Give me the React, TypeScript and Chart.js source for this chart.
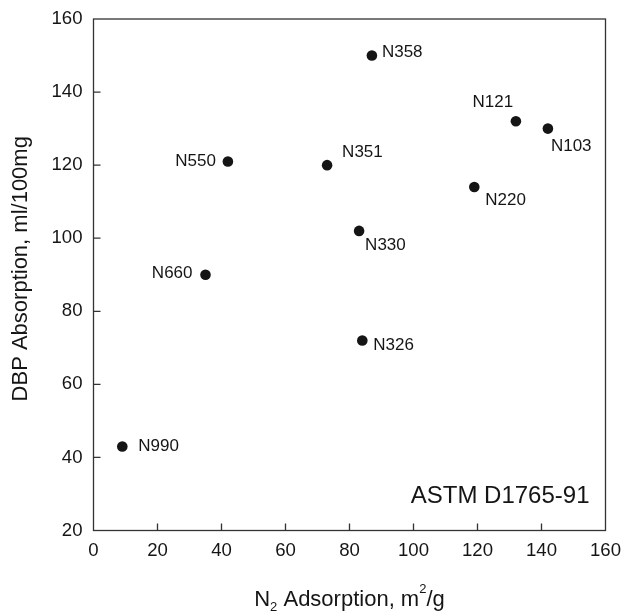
import React, { useEffect, useRef } from "react";
import { Chart, registerables } from "chart.js";

Chart.register(...registerables);

// ---- data ----
const grades = ["N990", "N660", "N550", "N358", "N121", "N103", "N351", "N220", "N330", "N326"];
const n2Adsorption = [9, 35, 42, 87, 132, 142, 73, 119, 83, 84];
const dbpAbsorption = [43, 90, 121, 150, 132, 130, 120, 114, 102, 72];

// label placement (style only): offset from the point and text alignment
const labelOffsets: [number, number][] = [
  [16, 0], [-13, -1], [-12, 0], [10, -3], [-23, -19],
  [3, 18], [15, -13], [11, 13], [6, 14], [11, 5],
];
const labelAligns: CanvasTextAlign[] = [
  "left", "right", "right", "left", "center",
  "left", "left", "left", "left", "left",
];

const xRange = [0, 160];
const yRange = [20, 160];
const tickStep = 20;
const yTitle = "DBP Absorption, ml/100mg";
const xTitleParts = [
  { text: "N", kind: "normal" },
  { text: "2", kind: "sub" },
  { text: " Adsorption, m", kind: "normal" },
  { text: "2", kind: "sup" },
  { text: "/g", kind: "normal" },
];
const noteText = "ASTM D1765-91";

const FONT = "'Liberation Sans', Arial, Helvetica, sans-serif";
const INK = "#151515";

const overlayPlugin = {
  id: "overlay",
  afterDatasetsDraw(chart: any) {
    const ctx: CanvasRenderingContext2D = chart.ctx;
    const { left, top, right, bottom } = chart.chartArea;
    const xs = chart.scales.x;
    const ys = chart.scales.y;
    ctx.save();

    // frame
    ctx.strokeStyle = "#333";
    ctx.lineWidth = 1.3;
    ctx.strokeRect(left, top, right - left, bottom - top);

    // inward tick marks
    ctx.beginPath();
    xs.ticks.forEach((t: any) => {
      const px = xs.getPixelForValue(t.value);
      if (px > left + 1 && px < right - 1) {
        ctx.moveTo(px, bottom);
        ctx.lineTo(px, bottom - 7);
      }
    });
    ys.ticks.forEach((t: any) => {
      const py = ys.getPixelForValue(t.value);
      if (py > top + 1 && py < bottom - 1) {
        ctx.moveTo(left, py);
        ctx.lineTo(left + 7, py);
      }
    });
    ctx.stroke();

    // point labels
    const meta = chart.getDatasetMeta(0);
    ctx.fillStyle = INK;
    ctx.font = `17px ${FONT}`;
    ctx.textBaseline = "middle";
    meta.data.forEach((el: any, i: number) => {
      const [dx, dy] = labelOffsets[i];
      ctx.textAlign = labelAligns[i];
      ctx.fillText(grades[i], el.x + dx, el.y + dy);
    });

    // note
    ctx.font = `24px ${FONT}`;
    ctx.textAlign = "right";
    ctx.textBaseline = "alphabetic";
    ctx.fillText(noteText, right - 16, bottom - 27.5);

    // y title
    ctx.save();
    ctx.translate(21, (top + bottom) / 2 - 6);
    ctx.rotate(-Math.PI / 2);
    ctx.font = `22px ${FONT}`;
    ctx.textAlign = "center";
    ctx.textBaseline = "middle";
    ctx.fillText(yTitle, 0, 0);
    ctx.restore();

    // x title with sub/superscript
    const fontFor = (kind: string) => (kind === "normal" ? `22px ${FONT}` : `13px ${FONT}`);
    let total = 0;
    xTitleParts.forEach((p) => {
      ctx.font = fontFor(p.kind);
      total += ctx.measureText(p.text).width;
    });
    let x = (left + right) / 2 - total / 2;
    const base = 606;
    ctx.textAlign = "left";
    ctx.textBaseline = "alphabetic";
    xTitleParts.forEach((p) => {
      ctx.font = fontFor(p.kind);
      const off = p.kind === "sub" ? 4.7 : p.kind === "sup" ? -13.3 : 0;
      ctx.fillText(p.text, x, base + off);
      x += ctx.measureText(p.text).width;
    });

    ctx.restore();
  },
};

export default function App() {
  const ref = useRef<HTMLCanvasElement | null>(null);

  useEffect(() => {
    if (!ref.current) return;
    const chart = new Chart(ref.current, {
      type: "scatter",
      data: {
        datasets: [
          {
            data: n2Adsorption.map((x, i) => ({ x, y: dbpAbsorption[i] })),
            backgroundColor: INK,
            borderWidth: 0,
            pointRadius: 5.3,
            pointHoverRadius: 5.3,
          },
        ],
      },
      options: {
        responsive: false,
        animation: false,
        events: [],
        layout: { padding: { left: 0, right: 19.5, top: 19, bottom: 0 } },
        plugins: { legend: { display: false }, tooltip: { enabled: false } },
        scales: {
          x: {
            type: "linear",
            min: xRange[0],
            max: xRange[1],
            grid: { display: false, drawTicks: false },
            border: { display: false },
            ticks: {
              stepSize: tickStep,
              color: INK,
              padding: 9,
              maxRotation: 0,
              font: { family: FONT, size: 18.6 },
            },
            afterFit: (s: any) => {
              s.height = 80.5;
              s.paddingLeft = 0;
              s.paddingRight = 0;
            },
          },
          y: {
            type: "linear",
            min: yRange[0],
            max: yRange[1],
            grid: { display: false, drawTicks: false },
            border: { display: false },
            ticks: {
              stepSize: tickStep,
              color: INK,
              padding: 11,
              font: { family: FONT, size: 18.6 },
            },
            afterFit: (s: any) => {
              s.width = 93.5;
              s.paddingTop = 0;
              s.paddingBottom = 0;
            },
          },
        },
      },
      plugins: [overlayPlugin],
    });
    return () => chart.destroy();
  }, []);

  return (
    <canvas
      ref={ref}
      width={625}
      height={611}
      style={{ position: "fixed", left: 0, top: 0, width: 625, height: 611 }}
    />
  );
}
